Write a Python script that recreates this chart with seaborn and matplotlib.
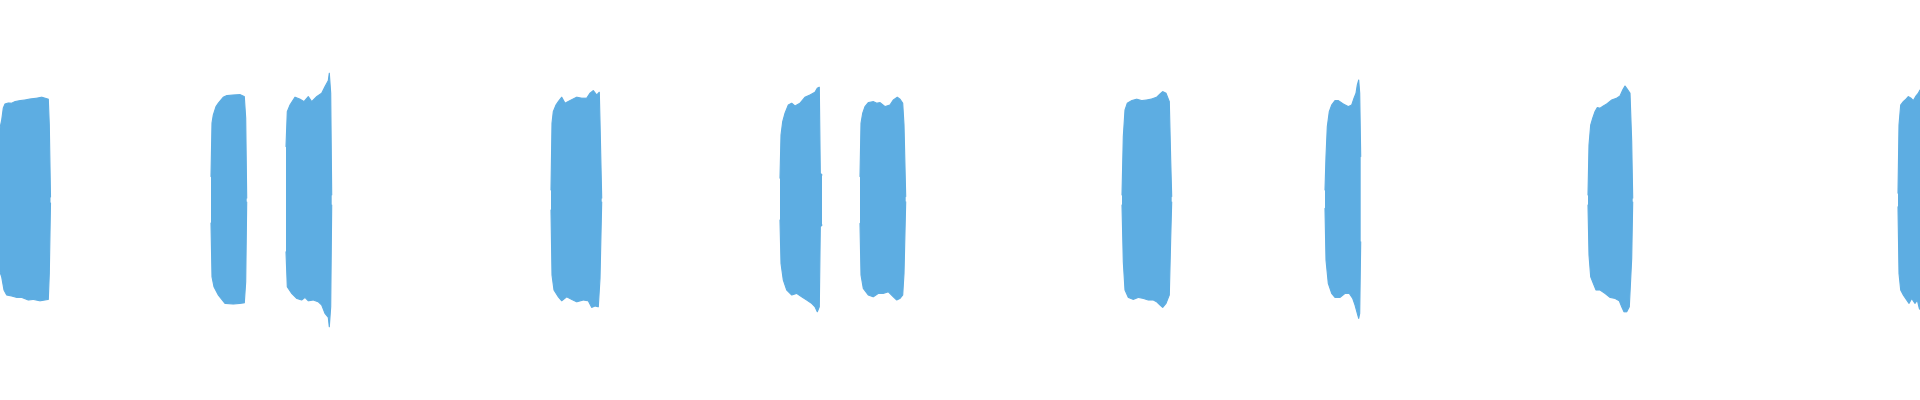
import numpy as np
import matplotlib
matplotlib.use("Agg")
import matplotlib.pyplot as plt
import seaborn as sns

sns.set_theme(style="white")

WAVE_COLOR = "#5DADE2"

# Waveform envelope of each sound burst: time (ms) and peak amplitude,
# upper (positive) and lower (negative) edges.
burst_top_t = [
    [0, 1.7, 3.3, 5, 8.3, 11.7, 15, 20, 25, 30, 36.7, 41.7, 48.3, 49.3, 50.5],
    [211, 212, 213.3, 216, 218.3, 223.3, 226.7, 233.3, 240, 244.3, 245.7, 246.7],
    [286, 287.3, 290, 295, 300, 304, 308.3, 311.7, 316.7, 321.7, 325, 328.3, 329.3, 330.7, 331.7],
    [551, 552, 553.3, 556, 558.3, 561.7, 565, 570, 576.7, 581.7, 586.7, 590, 593.3, 596.7, 599.3, 600, 601.7],
    [780, 781, 782.7, 785, 788.3, 791.7, 795, 800, 805, 810, 815, 817.3, 819.3, 820.3, 822],
    [860, 861, 862.7, 865, 868.3, 873.3, 876.7, 880, 885, 890, 893.3, 897.3, 900, 902.7, 904, 905.7],
    [1122, 1123.3, 1125, 1127.3, 1131.7, 1136.7, 1141.7, 1146.7, 1151.7, 1156.7, 1160, 1162.7, 1166, 1169.3, 1170.7, 1171.7],
    [1325, 1326, 1327.3, 1329.3, 1331.7, 1335, 1338.3, 1343.3, 1348.3, 1351.7, 1354, 1356, 1357.3, 1358.7, 1359.7, 1360.7],
    [1588, 1589, 1590.7, 1592.7, 1595, 1597.3, 1600, 1603.3, 1606.7, 1611.7, 1616.7, 1620, 1622.7, 1625, 1627.3, 1630, 1631.7, 1632.7],
    [1898, 1899, 1900.7, 1903.3, 1906, 1908.3, 1911, 1913.3, 1916, 1918.3, 1920],
]
burst_top_amp = [
    [0.36, 0.40, 0.46, 0.48, 0.485, 0.484, 0.492, 0.497, 0.50, 0.505, 0.509, 0.514, 0.504, 0.375, 0.015],
    [0.117, 0.385, 0.425, 0.467, 0.484, 0.514, 0.522, 0.525, 0.527, 0.517, 0.409, 0.009],
    [0.267, 0.442, 0.475, 0.514, 0.504, 0.492, 0.517, 0.492, 0.517, 0.534, 0.567, 0.597, 0.634, 0.534, 0.025],
    [0.05, 0.384, 0.442, 0.475, 0.492, 0.514, 0.484, 0.497, 0.514, 0.509, 0.509, 0.534, 0.547, 0.525, 0.539, 0.392, 0.009],
    [0.109, 0.325, 0.392, 0.434, 0.475, 0.484, 0.47, 0.484, 0.514, 0.525, 0.539, 0.559, 0.564, 0.134, 0.125],
    [0.117, 0.384, 0.434, 0.467, 0.487, 0.492, 0.484, 0.487, 0.467, 0.475, 0.50, 0.514, 0.504, 0.484, 0.375, 0.017],
    [0.025, 0.317, 0.45, 0.484, 0.497, 0.504, 0.497, 0.50, 0.505, 0.514, 0.53, 0.542, 0.534, 0.492, 0.20, 0.017],
    [0.05, 0.217, 0.367, 0.442, 0.475, 0.497, 0.497, 0.48, 0.467, 0.475, 0.509, 0.534, 0.575, 0.60, 0.534, 0.217],
    [0.025, 0.275, 0.375, 0.409, 0.442, 0.462, 0.459, 0.47, 0.48, 0.50, 0.509, 0.52, 0.55, 0.57, 0.554, 0.534, 0.292, 0.009],
    [0.034, 0.375, 0.475, 0.492, 0.504, 0.517, 0.509, 0.497, 0.52, 0.534, 0.55],
]
burst_bot_t = [
    [0, 1.7, 4, 6.7, 11.7, 16.7, 21.7, 28.3, 33.3, 40, 48.3, 49.3, 50.5],
    [211, 212, 214, 218.3, 225, 233.3, 240, 244.3, 245.7, 246.7],
    [286, 287.3, 291.7, 296.7, 301.7, 305, 308.3, 313.3, 318.3, 321.7, 325, 328.3, 329.3, 330.7, 331.7],
    [551, 552, 554, 558.3, 561.7, 566.7, 571.7, 576.7, 583.3, 588.3, 591.7, 595, 598.3, 600, 601.7],
    [780, 781, 783.3, 786.7, 791.7, 796.7, 801.7, 806.7, 811.7, 815, 817.3, 819.3, 820.3, 822],
    [860, 861, 863.3, 868.3, 873.3, 878.3, 883.3, 888.3, 893.3, 896.7, 900, 902.7, 904, 905.7],
    [1122, 1123.3, 1125, 1128.3, 1133.3, 1138.3, 1143.3, 1148.3, 1153.3, 1156.7, 1160, 1162.7, 1166, 1169.3, 1170.7, 1171.7],
    [1325, 1326, 1328.3, 1331.7, 1335, 1340, 1345, 1349.3, 1352.7, 1355, 1357.3, 1358.7, 1359.7, 1360.7],
    [1588, 1589, 1590.7, 1593.3, 1596, 1600, 1605, 1610, 1615, 1619.3, 1621.7, 1624, 1626.7, 1629.3, 1631.7, 1632.7],
    [1898, 1899, 1900.7, 1903.3, 1906.7, 1909, 1911.7, 1915, 1917.3, 1919.3, 1920],
]
burst_bot_amp = [
    [-0.36, -0.385, -0.45, -0.475, -0.48, -0.487, -0.487, -0.50, -0.497, -0.504, -0.497, -0.367, -0.015],
    [-0.115, -0.384, -0.434, -0.475, -0.517, -0.52, -0.517, -0.514, -0.409, -0.01],
    [-0.259, -0.434, -0.467, -0.492, -0.50, -0.487, -0.504, -0.50, -0.509, -0.525, -0.567, -0.587, -0.634, -0.534, -0.025],
    [-0.05, -0.375, -0.45, -0.484, -0.504, -0.484, -0.497, -0.509, -0.50, -0.504, -0.537, -0.53, -0.534, -0.392, -0.01],
    [-0.10, -0.317, -0.40, -0.45, -0.475, -0.467, -0.484, -0.50, -0.517, -0.534, -0.559, -0.534, -0.134, -0.125],
    [-0.117, -0.375, -0.442, -0.475, -0.484, -0.467, -0.467, -0.459, -0.484, -0.50, -0.492, -0.475, -0.367, -0.009],
    [-0.025, -0.309, -0.45, -0.487, -0.497, -0.487, -0.492, -0.50, -0.50, -0.509, -0.525, -0.537, -0.517, -0.475, -0.192, -0.01],
    [-0.042, -0.30, -0.417, -0.467, -0.487, -0.487, -0.467, -0.467, -0.492, -0.525, -0.567, -0.592, -0.567, -0.209],
    [-0.025, -0.275, -0.384, -0.417, -0.45, -0.45, -0.467, -0.487, -0.492, -0.504, -0.534, -0.559, -0.559, -0.534, -0.292, -0.01],
    [-0.034, -0.367, -0.45, -0.475, -0.50, -0.517, -0.492, -0.517, -0.50, -0.542, -0.547],
]

fig = plt.figure(figsize=(19.2, 4), dpi=100)
ax = fig.add_axes([0, 0, 1, 1])

for tt, ta, bt, ba in zip(burst_top_t, burst_top_amp, burst_bot_t, burst_bot_amp):
    # one closed outline per burst: upper edge forward, lower edge back
    xs = list(tt) + list(bt)[::-1]
    ys = list(ta) + list(ba)[::-1]
    ax.fill(xs, ys, color=WAVE_COLOR, linewidth=0)
    sns.lineplot(x=tt, y=ta, ax=ax, color=WAVE_COLOR, linewidth=0.8, sort=False)
    sns.lineplot(x=bt, y=ba, ax=ax, color=WAVE_COLOR, linewidth=0.8, sort=False)

ax.set_xlim(0, 1920)
ax.set_ylim(-1, 1)
ax.axis("off")

fig.savefig("out.png", dpi=100, facecolor="white")
plt.close(fig)
